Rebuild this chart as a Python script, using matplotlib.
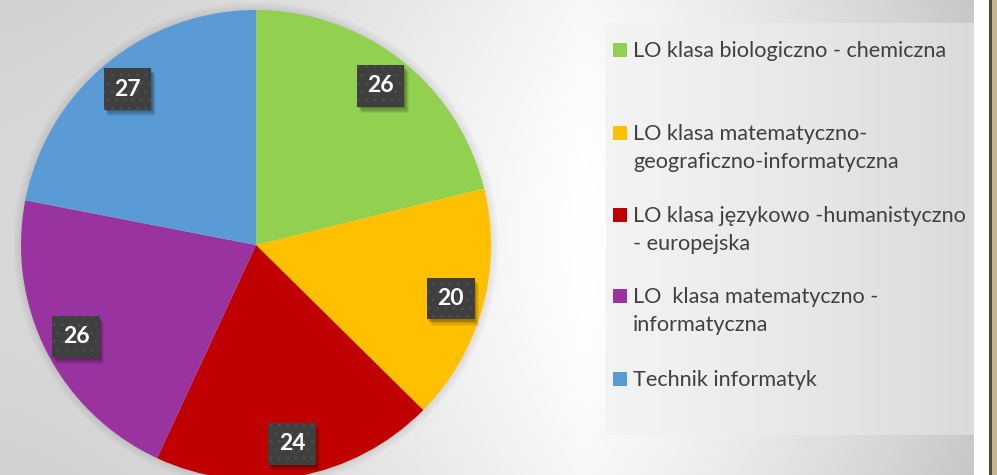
import numpy as np
import matplotlib
matplotlib.use('Agg')
import matplotlib.pyplot as plt
from matplotlib.patches import Rectangle, Circle
from matplotlib.transforms import IdentityTransform

# ---- data ----
categories = ['LO klasa biologiczno - chemiczna',
              'LO klasa matematyczno-\ngeograficzno-informatyczna',
              'LO klasa językowo -humanistyczno\n- europejska',
              'LO  klasa matematyczno -\ninformatyczna',
              'Technik informatyk']
values = [26, 20, 24, 26, 27]
colors = ['#92d050', '#ffc000', '#c00000', '#9933a0', '#5b9bd5']

W, H = 997, 475
fig = plt.figure(figsize=(W / 100, H / 100), dpi=100)

# ---- background ----
yy, xx = np.mgrid[0:H, 0:W].astype(float)
v = np.where(xx < 580,
             0.85 + 0.15 * (np.clip(xx, 0, 580) / 580) ** 1.5,
             1 - 0.19 * (np.clip(xx - 580, 0, 400) / 392) ** 1.3)
v -= 0.03 * ((yy - 237) / 237) ** 2
inbox = (xx >= 605) & (xx <= 972) & (yy >= 23) & (yy <= 434)
vbox = 0.955 - 0.10 * (np.clip(xx - 605, 0, 367) / 367) ** 1.2
v = np.where(inbox, vbox, v)
rgb = np.dstack([v, v, v])
white = (xx > 972) & (xx < 988)
rgb[white] = [1, 1, 1]
dark = (xx >= 988) & (xx < 990.5)
rgb[dark] = [0.30, 0.29, 0.24]
tan = xx >= 990.5
rgb[tan] = [0.78, 0.71, 0.54]
rgb = np.clip(rgb, 0, 1)

bg = fig.add_axes([0, 0, 1, 1])
bg.imshow(rgb, extent=(0, W, H, 0), aspect='auto', interpolation='bilinear')
bg.set_xlim(0, W)
bg.set_ylim(H, 0)
bg.axis('off')

# ---- pie ----
cx, cy, R = 256, 245, 235
ax = fig.add_axes([(cx - R) / W, (H - cy - R) / H, 2 * R / W, 2 * R / H])
ax.patch.set_alpha(0)
total = sum(values)
for k in range(1, 8):
    ax.add_patch(Circle((0, 0), 1 + 0.005 * k, facecolor='black', alpha=0.012,
                        edgecolor='none', zorder=0, clip_on=False))
wedges, texts, autotexts = ax.pie(values, colors=colors, startangle=90, counterclock=False,
                                  autopct=lambda p: f'{p * total / 100:.0f}',
                                  pctdistance=0.86, radius=1,
                                  wedgeprops=dict(linewidth=0))
for w in wedges:
    w.set_clip_on(False)
    w.set_zorder(2)

fs = 16.5
for t in autotexts:
    t.set_color('white')
    t.set_fontweight('bold')
    t.set_fontfamily('Lato')
    t.set_fontsize(fs)
    t.set_zorder(5)
    t.set_bbox(dict(boxstyle='square,pad=0.45', facecolor='#3f3f3f', edgecolor='#4c4c4c',
                    linewidth=0, hatch='..'))
ax.set_xlim(-1, 1)
ax.set_ylim(-1, 1)
ax.axis('off')

# soft shadows under the label boxes (display coordinates)
fig.canvas.draw()
for t in autotexts:
    bb = t.get_bbox_patch().get_window_extent()
    for k, a in [(1, 0.10), (2, 0.10), (3, 0.10), (4, 0.08), (5, 0.06)]:
        ax.add_patch(Rectangle((bb.x0 + k * 0.9, bb.y0 - k * 1.3), bb.width, bb.height,
                               transform=IdentityTransform(), facecolor='black',
                               alpha=a, edgecolor='none', zorder=3, clip_on=False))

# ---- legend ----
baselines = [57, 140, 222, 303, 386]
line_gap = 28
for cat, col, b in zip(categories, colors, baselines):
    bg.add_patch(Rectangle((613, b - 14), 14, 14, facecolor=col, edgecolor='none'))
    for i, line in enumerate(cat.split('\n')):
        bg.text(633, b + i * line_gap, line, fontsize=15.6, family='Lato',
                color='#404040', va='baseline', ha='left')

fig.savefig('out.png', dpi=100)
